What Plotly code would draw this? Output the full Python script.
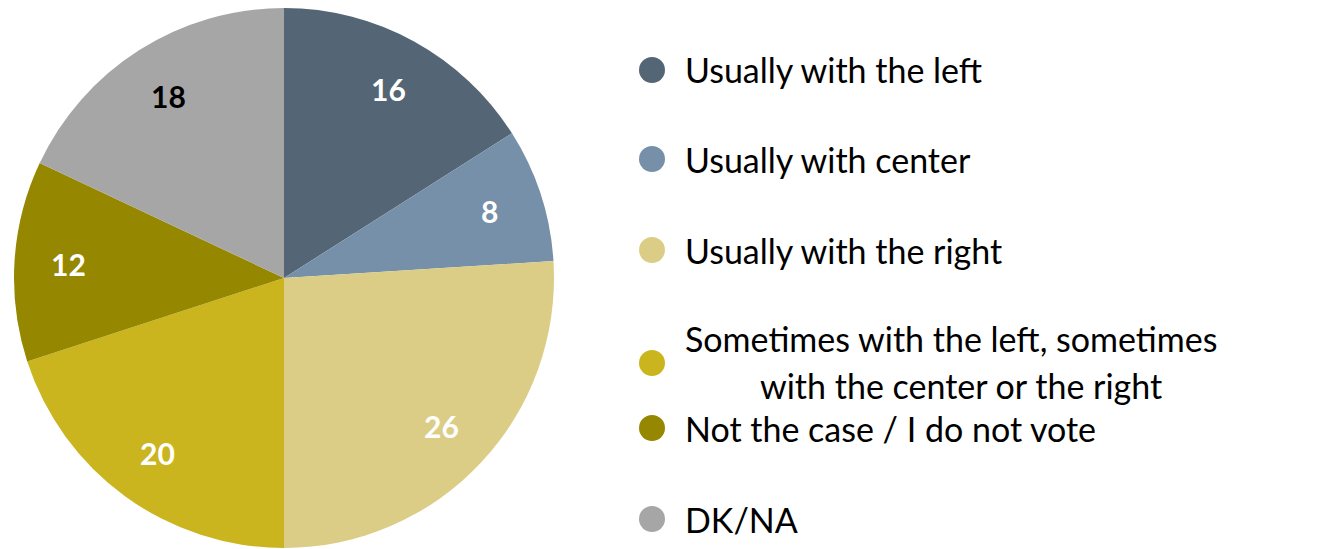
import math
import plotly.graph_objects as go

categories = ["Usually with the left", "Usually with center", "Usually with the right",
              "Sometimes with the left, sometimes<br>with the center or the right",
              "Not the case / I do not vote", "DK/NA"]
values = [16, 8, 26, 20, 12, 18]
colors = ["#546576", "#7590a8", "#dccd86", "#cbb51f", "#958700", "#a6a6a6"]
text_colors = ["white", "white", "white", "white", "white", "black"]

W, H = 1321, 549
OFF = 8  # page body margin offset
FONT = "Lato, Carlito, Calibri, sans-serif"

cx, cy, R = 284 - OFF, 278 - OFF, 270


def px(x):
    return (x - OFF) / W


def py(y):
    return 1 - (y - OFF) / H


fig = go.Figure()
fig.add_trace(go.Pie(
    labels=categories, values=values, sort=False, direction="clockwise", rotation=0,
    marker=dict(colors=colors, line=dict(width=0)),
    textinfo="none",
    showlegend=False, hoverinfo="label+value",
    domain=dict(x=[(cx - R) / W, (cx + R) / W], y=[1 - (cy + R) / H, 1 - (cy - R) / H]),
))

annotations = []
# value labels placed at 0.8 R along each slice's mid angle
total = sum(values)
cum = 0
for v, tc in zip(values, text_colors):
    mid = (cum + v / 2) / total * 2 * math.pi
    cum += v
    lx = cx + 0.8 * R * math.sin(mid)
    ly = cy - 0.8 * R * math.cos(mid)
    annotations.append(dict(text=f"<b>{v}</b>", x=lx / W, y=1 - ly / H, xref="paper", yref="paper",
                            xanchor="center", yanchor="middle", showarrow=False,
                            font=dict(family=FONT, size=30, color=tc)))

# manual legend
marker_y = [70, 159, 250, 363, 428, 519]
LF = 34
TX = 683
shapes = []
for i, (lab, col) in enumerate(zip(categories, colors)):
    yp = py(marker_y[i])
    shapes.append(dict(type="circle", xref="paper", yref="paper", xsizemode="pixel", ysizemode="pixel",
                       xanchor=px(652), yanchor=yp, x0=-13, x1=13, y0=-13, y1=13,
                       fillcolor=col, line=dict(width=0)))
    if "<br>" in lab:
        l1, l2 = lab.split("<br>")
        annotations.append(dict(text=l1, x=px(TX), y=py(338), xref="paper", yref="paper",
                                xanchor="left", yanchor="middle", showarrow=False,
                                font=dict(family=FONT, size=LF, color="black")))
        annotations.append(dict(text=l2, x=px(961), y=py(385), xref="paper", yref="paper",
                                xanchor="center", yanchor="middle", showarrow=False,
                                font=dict(family=FONT, size=LF, color="black")))
    else:
        annotations.append(dict(text=lab, x=px(TX), y=yp, xref="paper", yref="paper",
                                xanchor="left", yanchor="middle", showarrow=False,
                                font=dict(family=FONT, size=LF, color="black")))

fig.update_layout(width=W, height=H, margin=dict(l=0, r=0, t=0, b=0),
                  paper_bgcolor="white", plot_bgcolor="white",
                  shapes=shapes, annotations=annotations)
fig.write_html("out.html")
